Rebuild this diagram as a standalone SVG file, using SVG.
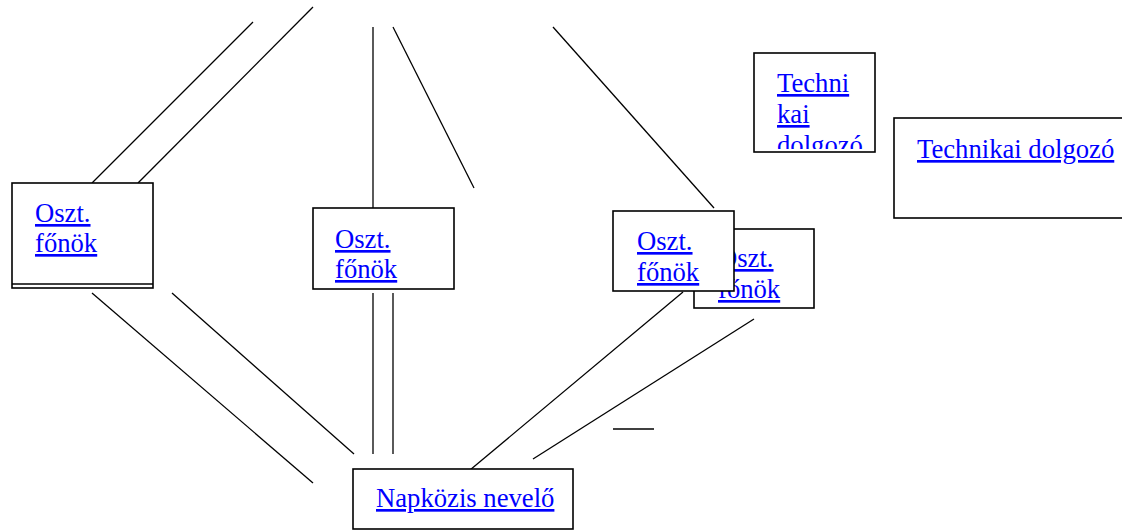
<svg xmlns="http://www.w3.org/2000/svg" width="1122" height="531" viewBox="0 0 1122 531">
  <style>
    .box { fill: #ffffff; stroke: #000000; stroke-width: 1.6; }
    .conn line { stroke: #000000; stroke-width: 1.3; }
    .lbl { font-family: "Liberation Serif", "Times New Roman", serif; font-size: 26.67px; fill: #0000ff; text-decoration: underline; }
  </style>
  <defs>
    <clipPath id="clipTechni">
      <rect x="755" y="54" width="119" height="95"/>
    </clipPath>
  </defs>
  <rect width="1122" height="531" fill="#ffffff"/>

  <g id="connectors" class="conn">
    <line x1="253" y1="22" x2="92" y2="183"/>
    <line x1="313" y1="7" x2="138" y2="183"/>
    <line x1="373" y1="27" x2="373" y2="208"/>
    <line x1="393" y1="27" x2="474" y2="188"/>
    <line x1="553" y1="27" x2="714" y2="208"/>
    <line x1="92" y1="293" x2="313" y2="483"/>
    <line x1="172" y1="293" x2="354" y2="454"/>
    <line x1="373" y1="293" x2="373" y2="454"/>
    <line x1="393" y1="293" x2="393" y2="454"/>
    <line x1="683" y1="292" x2="470" y2="470"/>
    <line x1="754" y1="319" x2="533" y2="459"/>
    <line x1="613" y1="429" x2="654" y2="429"/>
  </g>

  <g id="node-osztfonok-1">
    <rect class="box" x="12" y="183" width="141" height="105"/>
    <line x1="12" y1="284" x2="153" y2="284" stroke="#000" stroke-width="1.6"/>
    <text class="lbl" x="35" y="222">Oszt.</text>
    <text class="lbl" x="35" y="252">főnök</text>
  </g>

  <g id="node-osztfonok-2">
    <rect class="box" x="313" y="208" width="141" height="81"/>
    <text class="lbl" x="335" y="248">Oszt.</text>
    <text class="lbl" x="335" y="278">főnök</text>
  </g>

  <g id="node-osztfonok-4">
    <rect class="box" x="694" y="229" width="120" height="79"/>
    <text class="lbl" x="718" y="267">Oszt.</text>
    <text class="lbl" x="718" y="298">főnök</text>
  </g>

  <g id="node-osztfonok-3">
    <rect class="box" x="613" y="211" width="121" height="80"/>
    <text class="lbl" x="637" y="250">Oszt.</text>
    <text class="lbl" x="637" y="281">főnök</text>
  </g>

  <g id="node-techni">
    <rect class="box" x="754" y="53" width="121" height="99"/>
    <g clip-path="url(#clipTechni)">
      <text class="lbl" x="777" y="92">Techni</text>
      <text class="lbl" x="777" y="123">kai</text>
      <text class="lbl" x="777" y="154">dolgozó</text>
    </g>
  </g>

  <g id="node-technikai-dolgozo">
    <rect class="box" x="894" y="118" width="240" height="100"/>
    <text class="lbl" x="917" y="158">Technikai dolgozó</text>
  </g>

  <g id="node-napkozis">
    <rect class="box" x="353" y="469" width="220" height="60"/>
    <text class="lbl" x="376" y="507">Napközis nevelő</text>
  </g>
</svg>
